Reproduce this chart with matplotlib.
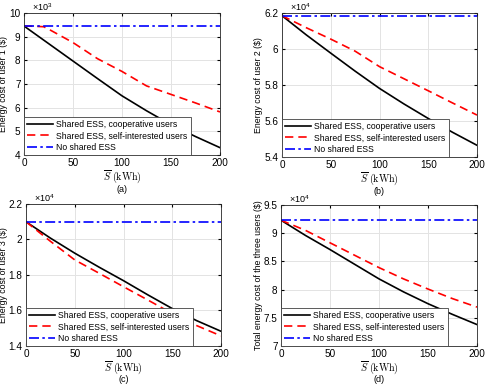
import numpy as np
import matplotlib
matplotlib.use("Agg")
import matplotlib.pyplot as plt
from matplotlib.ticker import FuncFormatter

plt.rcParams['font.family'] = ['Liberation Sans', 'DejaVu Sans']
plt.rcParams['mathtext.fontset'] = 'cm'

# storage capacity S (kWh)
S = [0, 25, 50, 75, 100, 125, 150, 175, 200]
S_red1 = [0, 10, 20, 25, 50, 75, 100, 125, 150, 175, 200]

# user 1 (x10^3)
u1_coop = [9450, 8710, 7970, 7230, 6500, 5870, 5280, 4780, 4310]
u1_self = [9450, 9440, 9420, 9320, 8750, 8070, 7530, 6920, 6560, 6200, 5820]
u1_none = 9450

# user 2 (x10^4)
u2_coop = [61850, 60780, 59770, 58770, 57810, 56950, 56140, 55370, 54650]
u2_self = [61850, 61180, 60550, 59880, 59020, 58350, 57680, 57000, 56330]
u2_none = 61850

# user 3 (x10^4)
u3_coop = [21000, 20080, 19230, 18440, 17680, 16880, 16110, 15430, 14830]
u3_self = [21000, 19900, 18850, 18100, 17340, 16590, 15830, 15150, 14570]
u3_none = 21000

# total (x10^4)
tot_coop = [92300, 89600, 87100, 84500, 81900, 79600, 77500, 75600, 73800]
tot_self = [92300, 90500, 88300, 86100, 83900, 81900, 80100, 78400, 76900]
tot_none = 92370

panels = [
    dict(rect=(24, 13, 220, 155), ylab_x=8.5, cap_y=189, s_red=S_red1, coop=u1_coop,
         self_=u1_self, none=u1_none,
         ylim=(4000, 10000), yticks=np.arange(4000, 10001, 1000), scale=1e3, exp=3,
         ylabel='Energy cost of user 1 ($)', cap='(a)'),
    dict(rect=(282, 13, 477, 157), ylab_x=263, cap_y=192, s_red=S, coop=u2_coop,
         self_=u2_self, none=u2_none,
         ylim=(54000, 62000), yticks=np.arange(54000, 62001, 2000), scale=1e4, exp=4,
         ylabel='Energy cost of user 2 ($)', cap='(b)'),
    dict(rect=(26, 204, 221, 346), ylab_x=8, cap_y=380, s_red=S, coop=u3_coop,
         self_=u3_self, none=u3_none,
         ylim=(14000, 22000), yticks=np.arange(14000, 22001, 2000), scale=1e4, exp=4,
         ylabel='Energy cost of user 3 ($)', cap='(c)'),
    dict(rect=(281, 205, 477, 346), ylab_x=263, cap_y=380, s_red=S, coop=tot_coop,
         self_=tot_self, none=tot_none,
         ylim=(70000, 95000), yticks=np.arange(70000, 95001, 5000), scale=1e4, exp=4,
         ylabel='Total energy cost of the three users ($)', cap='(d)'),
]

W, H = 491, 385
fig = plt.figure(figsize=(W / 100, H / 100), dpi=100)

for p in panels:
    x0, y0, x1, y1 = p['rect']
    ax = fig.add_axes([x0 / W, 1 - y1 / H, (x1 - x0) / W, (y1 - y0) / H])
    ax.plot(S, p['coop'], color='k', lw=1.2, label='Shared ESS, cooperative users')
    ax.plot(p['s_red'], p['self_'], color='r', lw=1.2, ls=(0, (5, 3)),
            label='Shared ESS, self-interested users')
    ax.plot([S[0], S[-1]], [p['none'], p['none']], color='b', lw=1.2,
            ls=(0, (6, 2, 1.5, 2)), label='No shared ESS')
    ax.set_xlim(0, 200)
    ax.set_ylim(*p['ylim'])
    ax.set_xticks([0, 50, 100, 150, 200])
    ax.set_yticks(p['yticks'])
    sc = p['scale']
    ax.yaxis.set_major_formatter(FuncFormatter(lambda v, pos, sc=sc: '%g' % round(v / sc, 3)))
    ax.grid(True, color='#e3e3e3', lw=0.7)
    ax.set_axisbelow(True)
    ax.tick_params(direction='in', labelsize=7.2, length=2.5, top=True, right=True, pad=2.5)
    for sp in ax.spines.values():
        sp.set_linewidth(0.6)
        sp.set_color('#262626')
    ax.set_ylabel(p['ylabel'], fontsize=6.3)
    ax.yaxis.set_label_coords((p['ylab_x'] - x0) / (x1 - x0), 0.5)
    ax.set_xlabel(r'$\overline{S}\ \mathrm{(kWh)}$', fontsize=7.2, labelpad=0)
    ax.text(0.04, 1.0, r'$\mathregular{\times10^{%d}}$' % p['exp'], transform=ax.transAxes,
            fontsize=6.5, ha='left', va='bottom')
    leg = ax.legend(loc='lower left', fontsize=6.2, handlelength=3.0, borderaxespad=0,
                    fancybox=False, framealpha=1, edgecolor='#404040',
                    borderpad=0.35, labelspacing=0.3, handletextpad=0.4)
    leg.get_frame().set_linewidth(0.6)
    fig.text((x0 + x1) / 2 / W, 1 - p['cap_y'] / H, p['cap'], fontsize=6.5,
             ha='center', va='center')

fig.savefig('out.png', dpi=100)
